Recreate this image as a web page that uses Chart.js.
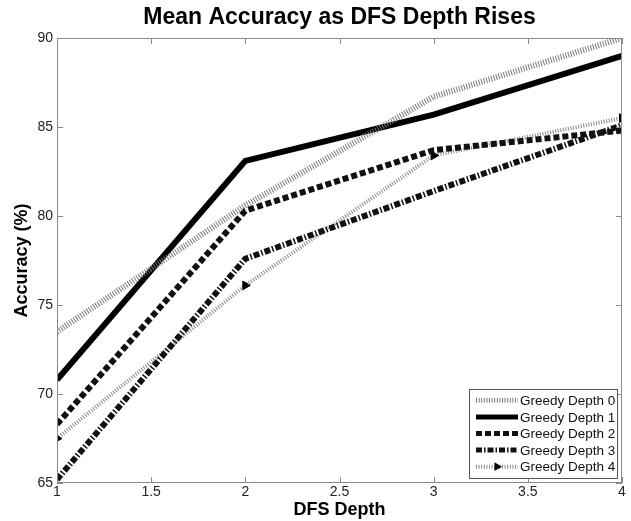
<!DOCTYPE html>
<html>
<head>
<meta charset="utf-8">
<script src="https://cdn.jsdelivr.net/npm/chart.js@4/dist/chart.umd.min.js"></script>
<style>
  html, body { margin: 0; padding: 0; background: #fff; }
  #wrap { width: 631px; height: 521px; }
</style>
</head>
<body>
<div id="wrap"><canvas id="chart" width="631" height="521"></canvas></div>
<script>
// values
const dfsDepth = [1, 2, 3, 4];
const greedy0 = [73.5, 80.6, 86.7, 90.0];
const greedy1 = [70.8, 83.1, 85.7, 89.0];
const greedy2 = [68.3, 80.3, 83.7, 84.8];
const greedy3 = [65.2, 77.6, 81.4, 85.1];
const greedy4 = [67.5, 76.1, 83.4, 85.5];
const seriesNames = ['Greedy Depth 0', 'Greedy Depth 1', 'Greedy Depth 2', 'Greedy Depth 3', 'Greedy Depth 4'];
const yTicks = [65, 70, 75, 80, 85, 90];
const xTicks = [1, 1.5, 2, 2.5, 3, 3.5, 4];
const chartTitle = 'Mean Accuracy as DFS Depth Rises';

const font = "'Liberation Sans', Arial, sans-serif";
const axisGray = '#8a8a8a';

function pts(vals) {
  return vals.map((v, i) => ({ x: dfsDepth[i], y: v }));
}

const styles = [
  { color: '#7a7a7a', width: 6, dash: [1, 1.6] },
  { color: '#000', width: 6, dash: [] },
  { color: '#111', width: 6, dash: [6, 3] },
  { color: '#111', width: 6, dash: [6, 2, 1.5, 2] },
  { color: '#8a8a8a', width: 4, dash: [1, 1.6], marker: true }
];

const allVals = [greedy0, greedy1, greedy2, greedy3, greedy4];

const datasets = allVals.map((vals, i) => ({
  label: seriesNames[i],
  data: pts(vals),
  borderColor: styles[i].color,
  borderWidth: styles[i].width,
  borderDash: styles[i].dash,
  tension: 0,
  fill: false,
  pointRadius: styles[i].marker ? 5 : 0,
  pointStyle: 'triangle',
  pointRotation: 90,
  pointBackgroundColor: '#000',
  pointBorderColor: '#000',
  pointBorderWidth: 1
}));

// title centred over the plot box
const plotTitle = {
  id: 'plotTitle',
  afterDraw(chart) {
    const { ctx, chartArea: a } = chart;
    ctx.save();
    ctx.fillStyle = '#000';
    ctx.font = 'bold 23px ' + font;
    ctx.textAlign = 'center';
    ctx.textBaseline = 'middle';
    ctx.fillText(chartTitle, (a.left + a.right) / 2, 18);
    ctx.restore();
  }
};

// box, inward ticks
const frame = {
  id: 'frame',
  afterDatasetsDraw(chart) {
    const { ctx, chartArea: a, scales } = chart;
    ctx.save();
    ctx.strokeStyle = axisGray;
    ctx.lineWidth = 1;
    ctx.setLineDash([]);
    ctx.strokeRect(a.left + 0.5, a.top + 0.5, a.right - a.left - 1, a.bottom - a.top - 1);
    ctx.beginPath();
    xTicks.forEach(t => {
      const px = Math.round(scales.x.getPixelForValue(t)) + 0.5;
      ctx.moveTo(px, a.bottom); ctx.lineTo(px, a.bottom - 6);
      ctx.moveTo(px, a.top); ctx.lineTo(px, a.top + 6);
    });
    yTicks.forEach(t => {
      const py = Math.round(scales.y.getPixelForValue(t)) + 0.5;
      ctx.moveTo(a.left, py); ctx.lineTo(a.left + 6, py);
      ctx.moveTo(a.right, py); ctx.lineTo(a.right - 6, py);
    });
    ctx.stroke();
    ctx.restore();
  }
};

// legend box inside plot, lower right
const boxLegend = {
  id: 'boxLegend',
  afterDraw(chart) {
    const { ctx, chartArea: a } = chart;
    const w = 148, rowH = 16.6;
    const n = chart.data.datasets.length;
    const h = n * rowH + 6;
    const x0 = a.right - w - 5, y0 = a.bottom - h - 5;
    ctx.save();
    ctx.fillStyle = '#fff';
    ctx.fillRect(x0, y0, w, h);
    ctx.strokeStyle = '#555';
    ctx.lineWidth = 1;
    ctx.strokeRect(x0 + 0.5, y0 + 0.5, w, h);
    chart.data.datasets.forEach((ds, i) => {
      const cy = y0 + 3 + rowH * i + rowH / 2;
      const lx0 = x0 + 7, lx1 = x0 + 49;
      ctx.strokeStyle = ds.borderColor;
      ctx.lineWidth = Math.min(ds.borderWidth, 5);
      ctx.setLineDash(ds.borderDash);
      ctx.beginPath();
      ctx.moveTo(lx0, cy); ctx.lineTo(lx1, cy);
      ctx.stroke();
      if (ds.pointRadius > 0) {
        ctx.setLineDash([]);
        ctx.fillStyle = '#000';
        ctx.beginPath();
        const mx = (lx0 + lx1) / 2, r = 5;
        ctx.moveTo(mx + r, cy);
        ctx.lineTo(mx - r * 0.5, cy - r * 0.87);
        ctx.lineTo(mx - r * 0.5, cy + r * 0.87);
        ctx.closePath();
        ctx.fill();
      }
      ctx.setLineDash([]);
      ctx.fillStyle = '#111';
      ctx.font = '13.5px ' + font;
      ctx.textBaseline = 'middle';
      ctx.textAlign = 'left';
      ctx.fillText(ds.label, lx1 + 2, cy + 1);
    });
    ctx.restore();
  }
};

new Chart(document.getElementById('chart'), {
  type: 'line',
  data: { datasets },
  options: {
    responsive: false,
    animation: false,
    layout: { padding: { left: 0, right: 9, top: 38, bottom: 0 } },
    plugins: {
      legend: { display: false },
      tooltip: { enabled: false },
      title: { display: false }
    },
    scales: {
      x: {
        type: 'linear',
        min: 1, max: 4,
        afterFit: s => { s.height = 38; },
        afterBuildTicks: s => { s.ticks = xTicks.map(v => ({ value: v })); },
        grid: { display: false, drawTicks: false },
        border: { display: false },
        ticks: {
          color: '#222', font: { family: font, size: 14 }, padding: 1, maxRotation: 0,
          callback: v => String(v)
        },
        title: {
          display: true, text: 'DFS Depth', color: '#000',
          font: { family: font, size: 18, weight: 'bold' },
          padding: { top: 0, bottom: 0 }
        }
      },
      y: {
        min: 65, max: 90,
        afterFit: s => { s.width = 57; },
        afterBuildTicks: s => { s.ticks = yTicks.map(v => ({ value: v })); },
        grid: { display: false, drawTicks: false },
        border: { display: false },
        ticks: { color: '#222', font: { family: font, size: 14 }, padding: 4 },
        title: {
          display: true, text: 'Accuracy (%)', color: '#000',
          font: { family: font, size: 18, weight: 'bold' },
          padding: { top: 11, bottom: 0 }
        }
      }
    }
  },
  plugins: [frame, boxLegend, plotTitle]
});
</script>
</body>
</html>
